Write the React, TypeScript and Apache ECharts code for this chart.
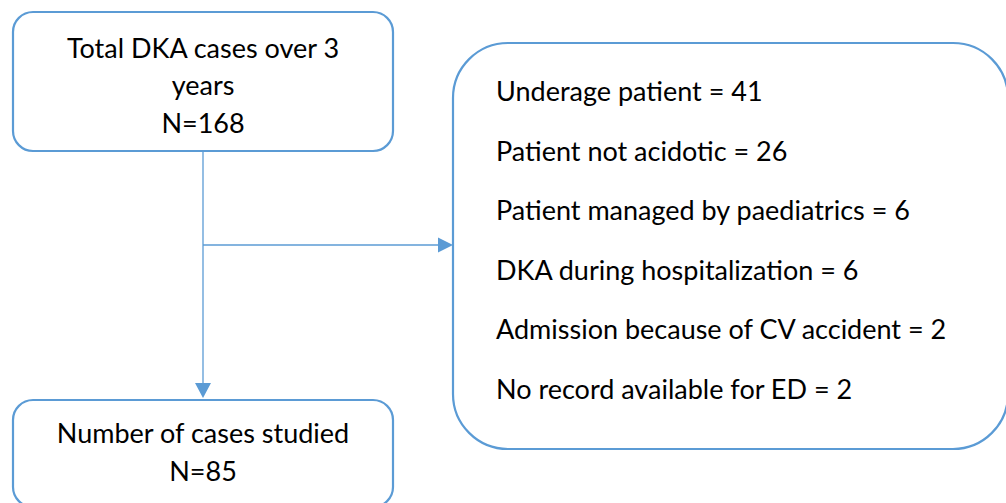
import React, { useEffect, useRef } from "react";
import * as echarts from "echarts";

// ---- data ----
const totalLabelLines = ["Total DKA cases over 3", "years"];
const totalCases = 168;
const studiedLabel = "Number of cases studied";
const studiedCases = 85;
const exclusionReasons = [
  "Underage patient",
  "Patient not acidotic",
  "Patient managed by paediatrics",
  "DKA during hospitalization",
  "Admission because of CV accident",
  "No record available for ED",
];
const exclusionCounts = [41, 26, 6, 6, 2, 2];

const BLUE = "#5B9BD5";
const FONT = "Lato";
const FS = 27;

export default function App() {
  const ref = useRef<HTMLDivElement>(null);
  useEffect(() => {
    document.body.style.margin = "0";
    const chart = echarts.init(ref.current!, null, { renderer: "svg" });
    const txt = (text: string, x: number, y: number, align: string = "center") => ({
      type: "text",
      x,
      y,
      style: {
        text,
        fill: "#000",
        font: `${FS}px ${FONT}`,
        fontSize: FS,
        fontFamily: FONT,
        align,
        verticalAlign: "middle",
      },
      z: 10,
    });
    const boxStyle = { fill: "#fff", stroke: BLUE, lineWidth: 2.2 };
    const lineStyle = { stroke: BLUE, lineWidth: 1.3 };

    const topLines = [...totalLabelLines, `N=${totalCases}`];
    const bottomLines = [studiedLabel, `N=${studiedCases}`];
    const rightLines = exclusionReasons.map((r, i) => `${r} = ${exclusionCounts[i]}`);

    const elements: any[] = [
      // connectors
      { type: "line", shape: { x1: 203, y1: 152, x2: 203, y2: 384 }, style: lineStyle, z: 1 },
      { type: "polygon", shape: { points: [[195, 383], [211, 383], [203, 398]] }, style: { fill: BLUE }, z: 1 },
      { type: "line", shape: { x1: 203, y1: 245, x2: 439, y2: 245 }, style: lineStyle, z: 1 },
      { type: "polygon", shape: { points: [[438, 237.5], [438, 252.5], [453, 245]] }, style: { fill: BLUE }, z: 1 },
      // boxes
      { type: "rect", shape: { x: 13, y: 12, width: 380, height: 139, r: 20 }, style: boxStyle, z: 2 },
      { type: "rect", shape: { x: 13, y: 400, width: 380, height: 107, r: 20 }, style: boxStyle, z: 2 },
      { type: "rect", shape: { x: 453, y: 43, width: 555, height: 406, r: 55 }, style: boxStyle, z: 2 },
    ];
    topLines.forEach((t, i) => elements.push(txt(t, 203, 47 + 37.8 * i)));
    bottomLines.forEach((t, i) => elements.push(txt(t, 203, 432.5 + 38 * i)));
    rightLines.forEach((t, i) => elements.push(txt(t, 496, 90.5 + 59.5 * i, "left")));

    chart.setOption({
      animation: false,
      backgroundColor: "#fff",
      graphic: { elements },
    });
    return () => chart.dispose();
  }, []);
  return (
    <div
      ref={ref}
      style={{ position: "absolute", left: 0, top: 0, width: 1006, height: 503 }}
    />
  );
}
